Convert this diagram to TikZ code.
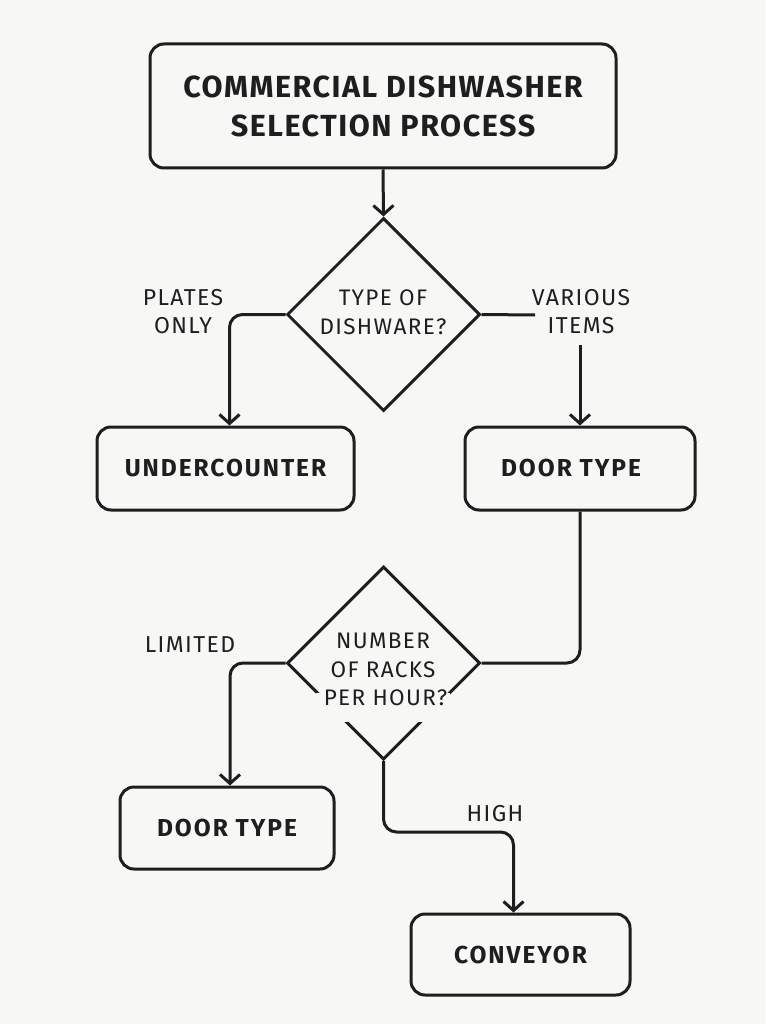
\documentclass[tikz,border=0pt]{standalone}
\usepackage{fontspec}
\setmainfont{Fira Sans}
\newfontfamily\titlefont{Fira Sans}[LetterSpace=5]
\newfontfamily\boxfont{Fira Sans}[LetterSpace=8]
\newfontfamily\lblfont{Fira Sans}[LetterSpace=6]
\usetikzlibrary{shapes.geometric,arrows.meta}
\definecolor{bg}{HTML}{F7F7F6}
\definecolor{ink}{HTML}{1E1E1E}
\tikzset{
  box/.style={draw=ink, line width=3pt, rounded corners=14pt, rectangle, inner sep=0pt, text=ink, font=\boxfont\bfseries\fontsize{24.5}{28}\selectfont},
  dec/.style={draw=ink, line width=3pt, diamond, aspect=1, inner sep=0pt, minimum width=193pt, minimum height=193pt},
  dtext/.style={text=ink, align=center, inner sep=0pt, font=\lblfont\fontsize{22.5}{29}\selectfont},
  lbl/.style={text=ink, align=center, inner sep=0pt, font=\lblfont\fontsize{23}{28}\selectfont},
  conn/.style={draw=ink, line width=3pt, rounded corners=13pt},
  arr/.style={conn, -{Straight Barb[length=9pt,width=20pt,line width=3pt]}}
}
\begin{document}
\begin{tikzpicture}[x=1pt,y=-1pt]
\fill[bg] (0,0) rectangle (765,1024);
\useasboundingbox (0,0) rectangle (765,1024);

\node[box, minimum width=466pt, minimum height=124pt, align=center, font=\titlefont\bfseries\fontsize{30.5}{39}\selectfont] (title) at (383,106) {COMMERCIAL DISHWASHER\\SELECTION PROCESS};

\node[dec] (d1) at (383.5,314.5) {};
\node[dtext] (d1t) at (383,312) {TYPE OF\\DISHWARE?};

\node[box, minimum width=257pt, minimum height=83pt] (uc) at (225.5,468.5) {UNDERCOUNTER};
\node[box, minimum width=230pt, minimum height=83pt] (dt1) at (580,468.5) {};
\node[text=ink, inner sep=0pt, font=\boxfont\bfseries\fontsize{24.5}{28}\selectfont] (dt1t) at (571,468.5) {DOOR TYPE};

\node[dec] (d2) at (383.5,663) {};
\fill[bg] (316,693) rectangle (450,722);
\node[dtext] (d2t) at (383,655) {NUMBER\\OF RACKS};
\node[dtext] (d2u) at (385.5,698) {PER HOUR?};

\node[box, minimum width=214pt, minimum height=82pt] (dt2) at (227,828) {DOOR TYPE};
\node[box, minimum width=219pt, minimum height=81pt] (cv) at (520.5,954.5) {CONVEYOR};

\node[lbl] (l1) at (183,312) {PLATES\\ONLY};
\node[lbl] (l2) at (581,312) {VARIOUS\\ITEMS};
\node[lbl] (l3) at (190,645) {LIMITED};
\node[lbl] (l4) at (495,814) {HIGH};

\coordinate (c1) at (535,315);
\coordinate (c2) at (580,345);
\coordinate (hm) at (448,832);

\draw[arr] (title.south) -- (d1.north);
\draw[arr] (d1.west) -| ([xshift=4pt]uc.north);
\draw[conn] (d1.east) -- (c1);
\draw[arr] (c2) -- (dt1.north);
\draw[conn] (dt1.south) |- (d2.east);
\draw[arr] (d2.west) -| ([xshift=3pt]dt2.north);
\draw[arr] (d2.south) |- (hm) -| ([xshift=-7pt]cv.north);
\end{tikzpicture}
\end{document}
